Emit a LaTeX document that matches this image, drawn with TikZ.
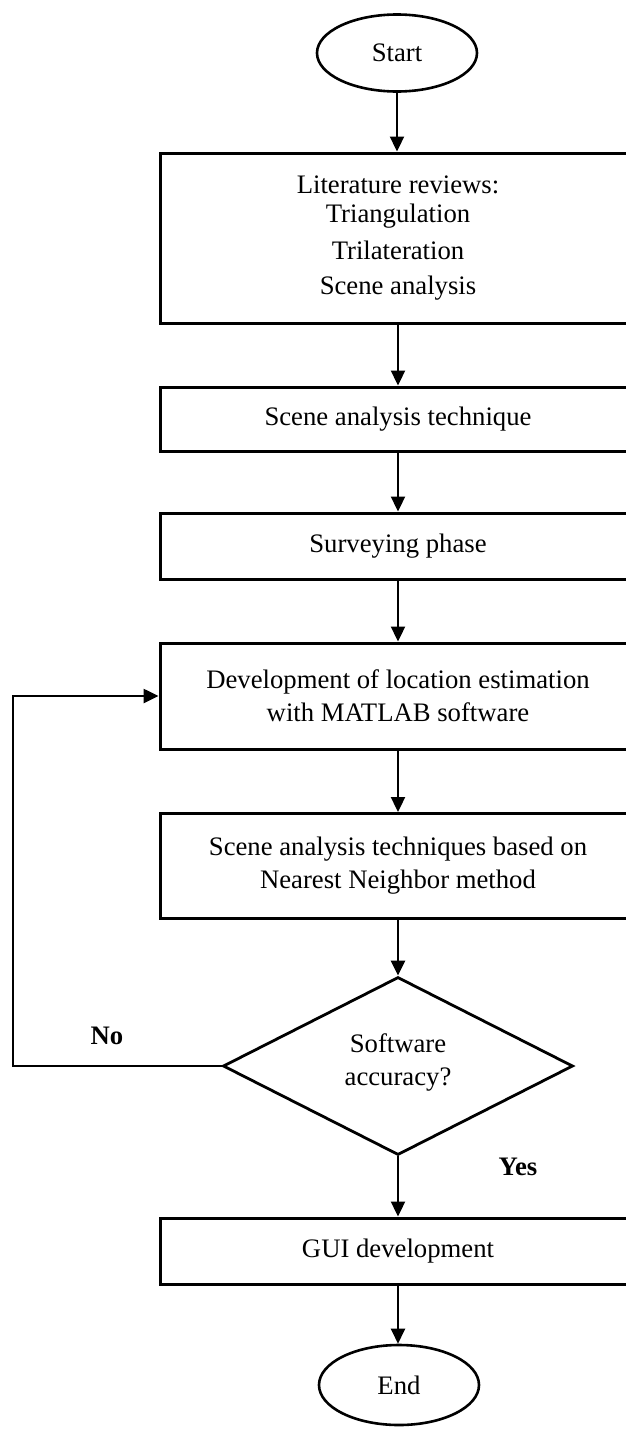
\documentclass[tikz,border=0pt]{standalone}
\usepackage{fontspec}
\setmainfont{Liberation Serif}
\usetikzlibrary{shapes.geometric,arrows.meta}
\tikzset{
  txt/.style={font=\fontsize{26.7}{33}\selectfont, align=center},
  procbox/.style={txt, draw, line width=3pt, rectangle, minimum width=476pt, inner sep=0pt},
  terminal/.style={txt, draw, line width=2.6pt, ellipse, minimum width=160pt, minimum height=77pt, inner sep=0pt},
  decision/.style={draw, line width=2.8pt, diamond, minimum width=350pt, minimum height=178pt, inner sep=0pt},
  flow/.style={line width=2.3pt, -{Triangle[length=15pt,width=14pt]}},
  lbl/.style={font=\fontsize{26.7}{33}\selectfont\bfseries}
}
\begin{document}
\begin{tikzpicture}[x=1pt,y=-1pt]
\useasboundingbox (0,0) rectangle (626,1430);
\node[terminal] (start) at (397,53) {Start};
\node[procbox, minimum height=170pt] (lit) at (398,238) {Literature reviews:\\[-4pt]Triangulation\\[4pt]Trilateration\\[2pt]Scene analysis};
\node[procbox, minimum height=64pt] (sat) at (398,419) {Scene analysis technique};
\node[procbox, minimum height=66pt] (surv) at (398,546) {Surveying phase};
\node[procbox, minimum height=106pt] (dev) at (398,696) {Development of location estimation\\with MATLAB software};
\node[procbox, minimum height=105pt] (nn) at (398,866) {Scene analysis techniques based on\\Nearest Neighbor method};
\node[decision] (dec) at (398,1066) {};
\node[txt] (dectext) at (398,1062) {Software\\accuracy?};
\node[procbox, minimum height=66pt] (gui) at (398,1251) {GUI development};
\node[terminal, minimum height=80pt] (end) at (399,1385) {End};
\node[lbl] (no) at (107,1036) {No};
\node[lbl] (yes) at (518,1167) {Yes};
\coordinate (loopb) at (13,1066);
\draw[flow] (start.south) -- (lit.north -| start.south);
\draw[flow] (lit.south) -- (sat.north);
\draw[flow] (sat.south) -- (surv.north);
\draw[flow] (surv.south) -- (dev.north);
\draw[flow] (dev.south) -- (nn.north);
\draw[flow] (nn.south) -- (dec.north);
\draw[flow] (dec.south) -- (gui.north);
\draw[flow] (gui.south) -- (gui.south |- end.north);
\draw[flow, line width=2.6pt, line join=miter] (dec.west) -- (loopb) |- (dev.west);
\end{tikzpicture}
\end{document}
